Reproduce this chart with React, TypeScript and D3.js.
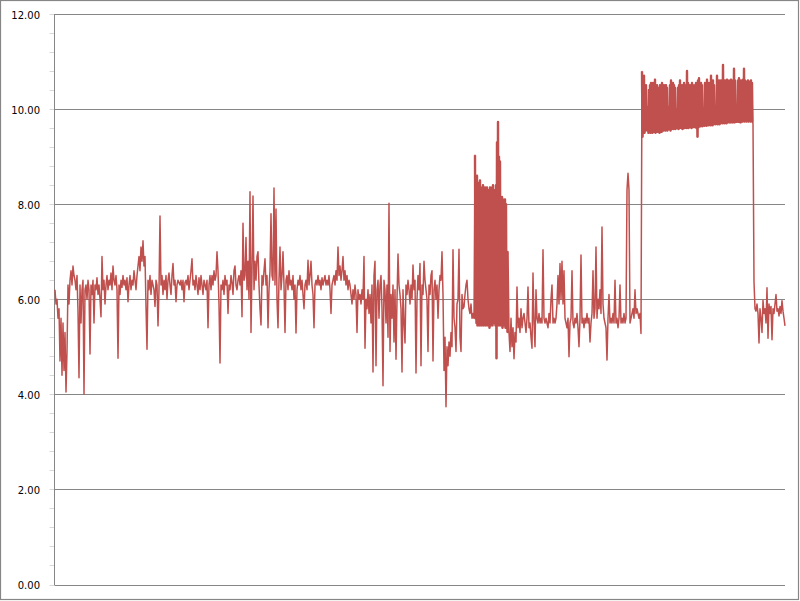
import React from "react";
import * as d3 from "d3";

// y-axis ticks
const yTicks = [0, 2, 4, 6, 8, 10, 12];

// Series values, left to right.
// Each block lists its samples and how many samples fall in one time unit.
const part1 = [
  6.2, 5.9, 6.0, 5.6, 5.8, 4.7, 5.6, 4.4, 5.5, 4.5,
  5.3, 4.05, 4.9, 6.3, 5.9, 6.4, 6.6, 6.3, 6.7, 6.5,
  6.4, 6.2, 6.5, 5.75, 4.35, 6.3, 5.5, 6.2, 6.4, 4.0,
  6.2, 6.3, 6.0, 6.4, 6.2, 4.85, 6.3, 6.1, 6.4, 5.5,
  6.3, 6.2, 6.45, 6.1, 6.3, 6.0, 5.63, 6.9, 6.2, 6.4,
  5.9, 6.3, 6.5, 6.2, 6.4, 6.3, 6.55, 6.2, 6.7, 6.4,
  6.3, 6.5, 6.2, 4.76, 6.3, 6.1, 6.4, 6.25, 6.5, 6.3,
  6.4, 6.2, 6.45, 5.95, 6.3, 6.5, 6.2, 6.4, 6.3, 6.6,
  6.4, 6.2, 6.5, 6.7, 6.9, 6.6, 7.1, 6.8, 7.23, 6.7,
  6.9, 5.85, 4.95, 6.4, 6.2, 6.5, 6.1, 6.4, 6.3, 6.2,
  5.85, 6.4, 6.3, 5.44, 6.2, 7.75, 6.3, 6.5, 6.1, 6.4,
  6.2, 6.5, 6.0, 6.4, 6.55, 6.3, 6.1, 6.5, 6.75, 6.3,
  6.4, 5.95, 6.3, 6.4, 6.35, 6.3, 6.4, 6.2, 6.4, 5.95,
  6.35, 6.4, 6.3, 6.5, 6.2, 6.4, 6.6, 6.85, 6.3, 6.4,
  6.2, 6.5, 6.3, 6.1, 6.45, 6.2, 6.5, 6.3, 6.1, 6.4,
  6.3, 6.2, 6.4, 5.4, 6.3, 6.5, 6.2, 6.5, 6.3, 6.6,
  6.4, 6.5, 7.0, 6.6, 5.9, 4.66, 6.3, 6.2, 6.4, 6.1,
  6.5, 6.3, 6.4, 5.7, 6.3, 6.2, 6.5, 6.35, 6.1, 6.6,
  6.7, 6.3, 6.2, 6.4, 6.5, 6.3, 6.6, 5.63, 7.6, 6.4,
  6.5, 7.3, 6.2, 6.8, 6.0, 8.26, 5.3, 6.6, 8.17, 6.2,
  6.8, 6.4, 6.9, 7.0, 6.3, 5.8, 5.46, 6.5, 6.3, 6.6,
  6.85, 6.3, 6.5, 5.4, 6.2, 6.6, 7.8, 6.5, 6.4, 8.34,
  6.3, 7.9, 6.0, 5.4, 6.4, 7.1, 6.2, 6.5, 7.0, 6.3,
  5.3, 6.4, 6.5, 6.2, 6.6, 6.3, 6.4, 6.2, 6.5, 6.0,
  6.3, 5.29, 6.2, 6.4, 6.3, 6.5, 6.2, 6.4, 6.1, 5.8,
  6.3, 6.4, 6.2, 6.82, 6.3, 6.5, 6.8, 6.3, 6.1, 5.4,
  6.3, 6.4, 6.3, 6.5, 6.3, 6.4, 6.2, 6.45, 6.3, 6.4,
  6.5, 6.3, 6.4, 6.3, 6.5, 6.2, 5.7, 6.3, 6.4, 6.5,
  6.3, 6.6, 6.4, 7.1, 6.5, 6.7, 6.4, 6.6, 6.9, 6.4,
  6.6, 6.3, 6.5, 6.2, 6.4, 6.3, 6.1, 5.9, 6.2, 6.0,
  6.3, 6.1, 5.3, 6.2, 6.0, 6.1, 5.9, 6.2, 6.0, 6.9,
  4.97, 6.0, 5.8, 6.2, 5.7, 6.1, 5.5, 6.3, 4.47, 6.5,
  6.8, 4.6, 6.2, 6.4, 5.6, 6.3, 6.5, 5.8, 4.18, 6.4,
  6.2, 5.5, 6.3, 5.2, 8.02, 4.9, 6.1, 5.6, 6.3, 5.1,
  6.2, 4.74, 6.0, 6.95, 6.3, 6.1, 5.8, 4.47, 6.2, 5.5,
  5.08, 6.3, 6.1, 6.4, 6.2, 5.9, 6.3, 6.0, 6.72, 6.2,
  6.4, 4.45, 6.0, 6.5, 6.2, 6.75, 4.6, 6.3, 6.1, 6.8,
  6.4, 6.2, 6.0, 4.9, 6.3, 6.1, 6.5, 6.6, 4.7, 6.2,
  6.4, 6.0, 6.3, 5.6, 6.2, 6.5, 6.4, 7.0, 6.1, 4.5,
  5.2, 3.74, 5.0, 4.6, 5.1, 4.8, 5.3, 5.0, 7.04, 5.6,
  5.4, 4.9, 5.9, 6.0, 7.05, 5.2, 4.9, 6.1, 5.8, 5.84,
  6.1, 6.3, 6.4, 6.0, 5.8, 5.7, 5.9, 5.6, 5.7, 5.6,
];

// first burst (two samples per unit)
const part2 = [
  9.03, 5.6, 8.3, 5.5, 8.6, 5.45, 8.4, 5.5, 8.45, 5.45,
  8.5, 5.5, 8.35, 5.45, 6.5, 5.6, 8.4, 5.45, 8.3, 5.5,
  8.35, 5.45, 8.3, 5.5, 8.35, 5.45, 6.8, 5.5, 8.3, 5.4,
  8.35, 5.45, 8.3, 5.5, 8.35, 5.45, 8.4, 5.5, 6.2, 5.5,
  8.3, 5.45, 8.4, 4.76, 9.3, 5.5, 9.73, 5.45, 9.0, 5.5,
  8.9, 5.45, 8.1, 5.5, 8.15, 5.4, 8.1, 5.45, 8.05, 5.5,
  8.1, 5.4, 8.0, 5.45, 7.0, 5.3,
];

const part3 = [
  7.0, 5.3, 4.9, 5.6, 5.0, 5.4, 4.75,
  5.3, 5.1, 6.26, 5.4, 5.6, 5.3, 5.8, 5.4, 5.6, 5.7,
  5.5, 5.3, 5.6, 6.26, 5.4, 5.5, 5.2, 4.97, 6.55, 5.5,
  5.0, 6.2, 5.6, 5.5, 5.7, 5.5, 5.6, 5.5, 7.04, 5.6,
  5.5, 5.6, 5.5, 5.4, 5.7, 5.5, 6.0, 6.3, 5.5, 5.6,
  5.5, 5.6, 5.9, 6.5, 5.9, 6.75, 6.0, 6.8, 5.9, 6.6,
  5.6, 5.5, 5.4, 5.6, 4.79, 5.5, 5.6, 6.6, 5.5, 5.4,
  5.6, 5.5, 5.7, 5.4, 5.0, 5.6, 6.93, 5.5, 5.6, 5.4,
  5.6, 5.5, 5.7, 5.5, 5.6, 5.1, 5.5, 5.7, 6.6, 5.6,
  5.8, 7.1, 5.6, 6.0, 5.8, 6.2, 5.7, 7.52, 5.9, 5.6,
  5.5, 5.4, 4.72, 5.6, 6.1, 5.5, 5.6, 5.5, 5.7, 5.5,
  6.4, 5.5, 5.6, 5.4, 5.6, 6.3, 5.5, 5.6, 5.5, 5.7,
  5.5, 5.6, 8.3, 8.65, 8.3, 5.5, 5.6, 5.7, 5.8, 5.6,
  6.2, 5.7, 5.8, 5.7, 5.6, 5.7, 5.28,
];

// high plateau (two samples per unit)
const part4 = [
  10.79, 9.42, 10.5, 9.55, 10.7, 9.5, 10.45, 9.55, 10.5, 9.6,
  10.0, 9.55, 10.05, 9.5, 10.4, 9.55, 10.5, 9.5, 10.55, 9.55,
  10.4, 9.5, 10.55, 9.52, 10.45, 9.55, 10.62, 9.5, 10.4, 9.55,
  10.5, 9.52, 10.45, 9.55, 10.35, 9.5, 10.5, 9.55, 10.45, 9.52,
  10.55, 9.58, 10.4, 9.55, 10.5, 9.58, 10.45, 9.55, 10.5, 9.6,
  10.45, 9.55, 10.0, 9.6, 10.05, 9.58, 10.5, 9.55, 10.6, 9.58,
  10.4, 9.6, 10.55, 9.58, 10.5, 9.6, 10.45, 9.58, 10.0, 9.6,
  10.0, 9.62, 10.45, 9.58, 10.5, 9.6, 10.6, 9.62, 10.45, 9.6,
  10.5, 9.58, 10.45, 9.62, 10.55, 9.6, 10.5, 9.62, 10.45, 9.6,
  10.8, 9.62, 10.55, 9.6, 10.4, 9.62, 10.5, 9.64, 10.45, 9.6,
  10.55, 9.62, 10.5, 9.62, 10.45, 9.65, 10.5, 9.62, 10.55, 9.6,
  10.45, 9.42, 10.6, 9.62, 10.65, 9.65, 10.5, 9.64, 10.55, 9.66,
  10.5, 9.64, 10.0, 9.66, 10.02, 9.65, 10.55, 9.66, 10.5, 9.65,
  10.62, 9.67, 10.5, 9.66, 10.55, 9.68, 10.5, 9.66, 10.7, 9.68,
  10.55, 9.66, 10.6, 9.68, 10.5, 9.7, 10.05, 9.68, 10.0, 9.7,
  10.7, 9.68, 10.55, 9.7, 10.6, 9.68, 10.5, 9.7, 10.6, 9.72,
  10.55, 9.7, 10.93, 9.72, 10.55, 9.7, 10.6, 9.72, 10.55, 9.7,
  10.62, 9.72, 10.6, 9.74, 10.55, 9.72, 10.6, 9.72, 10.62, 9.74,
  10.55, 9.72, 10.6, 9.74, 10.85, 9.72, 10.6, 9.74, 10.05, 9.73,
  10.0, 9.75, 10.6, 9.73, 10.65, 9.75, 10.55, 9.72, 10.6, 9.75,
  10.58, 9.74, 10.62, 9.75, 10.85, 9.74, 10.6, 9.76, 10.58, 9.74,
  10.55, 9.75, 10.6, 9.74, 10.55, 9.76, 10.58, 9.74, 10.6, 9.75,
  10.55, 9.72,
];

const part5 = [
  9.7,
  6.37, 5.8, 5.75, 5.9, 5.7, 5.08, 5.8, 5.6, 5.3, 5.98,
  5.7, 5.8, 5.5, 6.24, 5.18, 5.9, 5.7, 5.85, 5.15, 5.8,
  5.7, 5.9, 6.1, 5.75, 5.8, 5.65, 5.85, 5.7, 5.97, 5.75,
  5.6, 5.44,
];

const parts: [number[], number][] = [
  [part1, 1],
  [part2, 2],
  [part3, 1],
  [part4, 2],
  [part5, 1],
];

type Pt = { t: number; v: number; dense: boolean };
const points: Pt[] = [];
{
  let t0 = 0;
  for (const [vals, density] of parts) {
    vals.forEach((v, k) => points.push({ t: t0 + k / density, v, dense: density > 1 }));
    t0 += vals.length / density;
  }
}

const W = 800;
const H = 601;
const plotLeft = 54.5;
const plotRight = 785;
const dataLeft = 55;
const plotTop = 14;
const plotBottom = 584.5;

export default function App() {
  const x = d3
    .scaleLinear()
    .domain([0, points[points.length - 1].t])
    .range([dataLeft, plotRight]);
  const y = d3.scaleLinear().domain([0, 12]).range([plotBottom, plotTop]);
  const line = d3
    .line<Pt>()
    .x((d) => x(d.t))
    .y((d) => y(d.v));
  const denseLine = d3
    .line<Pt>()
    .defined((d) => d.dense)
    .x((d) => x(d.t))
    .y((d) => y(d.v));
  const minorTicks = d3.range(0, 12.0001, 0.4);
  const fmt = d3.format(".2f");

  return (
    <svg
      width={W}
      height={H}
      style={{ position: "absolute", left: 0, top: 0, background: "#fff" }}
    >
      <rect x={0.5} y={0.5} width={798} height={599} fill="#fff" stroke="#868686" strokeWidth={1.2} />
      {minorTicks.map((t, i) => (
        <line
          key={"m" + i}
          x1={plotLeft - 5}
          x2={plotLeft}
          y1={Math.round(y(t)) + 0.5}
          y2={Math.round(y(t)) + 0.5}
          stroke="#d8d8d8"
          strokeWidth={1}
        />
      ))}
      {yTicks.map((t) => (
        <line
          key={"g" + t}
          x1={plotLeft}
          x2={plotRight}
          y1={Math.round(y(t)) + 0.5}
          y2={Math.round(y(t)) + 0.5}
          stroke="#868686"
          strokeWidth={1}
        />
      ))}
      <line x1={plotLeft} x2={plotLeft} y1={plotTop} y2={plotBottom + 0.5} stroke="#868686" strokeWidth={1} />
      {yTicks.map((t) => (
        <text
          key={"t" + t}
          x={40}
          y={y(t) + 4.5}
          textAnchor="end"
          fontFamily="'DejaVu Sans', Verdana, sans-serif"
          fontSize={10}
          fill="#000"
        >
          {fmt(t)}
        </text>
      ))}
      <path d={line(points) || ""} fill="none" stroke="#C0504D" strokeWidth={1.5} strokeLinejoin="round" />
      <path d={denseLine(points) || ""} fill="none" stroke="#C0504D" strokeWidth={2.4} strokeLinejoin="round" />
    </svg>
  );
}
